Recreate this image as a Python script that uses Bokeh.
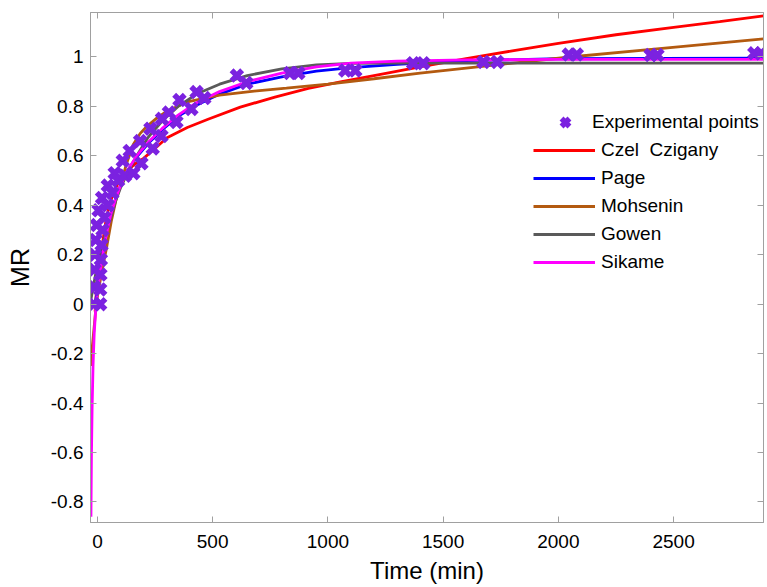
from bokeh.plotting import figure
from bokeh.models import (LinearAxis, Range1d, FixedTicker, CustomJSTickFormatter,
                          Legend, LegendItem)
from bokeh.embed import file_html
from bokeh.resources import INLINE

# ---------------- data ----------------
# experimental points, replicate 1
exp1_t = [-15, -14, -13, -11, -8, -3, 5, 20, 45, 75, 110, 140, 185, 230, 280, 310,
          356, 430, 605, 835, 1075, 1370, 1675, 2045, 2400, 2850]
exp1_mr = [0.0, 0.07, 0.14, 0.20, 0.26, 0.32, 0.38, 0.43, 0.48, 0.53, 0.58, 0.62,
           0.66, 0.71, 0.75, 0.775, 0.826, 0.858, 0.925, 0.935, 0.945, 0.975, 0.98,
           1.01, 1.008, 1.015]
# experimental points, replicate 2
exp2_t = [12, 12, 13, 15, 18, 22, 30, 45, 65, 90, 120, 156, 191, 240, 278, 343,
          408, 464, 646, 872, 1119, 1414, 1735, 2080, 2430, 2880]
exp2_mr = [0.0, 0.06, 0.12, 0.18, 0.24, 0.30, 0.35, 0.40, 0.45, 0.50, 0.52, 0.53,
           0.57, 0.63, 0.68, 0.737, 0.79, 0.834, 0.895, 0.935, 0.945, 0.975, 0.98,
           1.01, 1.008, 1.015]

# Czel Czigany model
czel_t = [-10, -4, 0, 9, 26, 39, 55, 69, 95, 125, 160, 200, 250, 300, 390, 480, 620,
          770, 915, 1060, 1200, 1400, 1600, 1800, 2000, 2250, 2500, 2700, 2890]
czel_mr = [-0.03, 0.06, 0.10, 0.166, 0.27, 0.35, 0.41, 0.45, 0.50, 0.535, 0.565, 0.59,
           0.63, 0.672, 0.715, 0.748, 0.797, 0.838, 0.873, 0.9, 0.925, 0.96, 0.993,
           1.025, 1.055, 1.09, 1.12, 1.143, 1.166]

# Page model
page_t = [-10, 0, 10, 20, 30, 45, 60, 80, 100, 130, 170, 220, 280, 350, 430, 530, 650,
          800, 950, 1100, 1300, 1600, 2000, 2890]
page_mr = [0.0, 0.06, 0.13, 0.19, 0.24, 0.31, 0.37, 0.43, 0.48, 0.54, 0.595, 0.65,
           0.705, 0.76, 0.805, 0.85, 0.89, 0.92, 0.943, 0.957, 0.97, 0.985, 0.993, 0.995]

# Mohsenin model
mohs_t = [-28, -24, -18, -12, -5, 5, 15, 25, 40, 60, 80, 100, 125, 155, 185, 215, 260,
          300, 390, 530, 680, 820, 1000, 1200, 1400, 1700, 2050, 2450, 2890]
mohs_mr = [-0.25, -0.19, -0.13, -0.07, 0.0, 0.06, 0.11, 0.16, 0.23, 0.335, 0.42, 0.48,
           0.565, 0.645, 0.69, 0.72, 0.755, 0.78, 0.818, 0.846, 0.862, 0.874, 0.89,
           0.912, 0.935, 0.965, 1.0, 1.035, 1.073]

# Gowen model
gowen_t = [-28, -20, -10, 0, 10, 25, 40, 60, 80, 100, 130, 170, 220, 280, 350, 430, 530,
           650, 800, 950, 1100, 1300, 2890]
gowen_mr = [0.02, 0.06, 0.11, 0.16, 0.20, 0.25, 0.30, 0.355, 0.42, 0.47, 0.53, 0.60,
            0.675, 0.74, 0.80, 0.85, 0.89, 0.925, 0.952, 0.968, 0.974, 0.975, 0.975]

# Sikame model
sik_t = [-28, -26, -23, -19, -14, -8, 0, 10, 20, 30, 45, 60, 80, 100, 130, 170, 220, 280,
         350, 430, 530, 650, 800, 950, 1100, 1300, 1600, 2000, 2890]
sik_mr = [-0.86, -0.62, -0.42, -0.25, -0.12, -0.03, 0.05, 0.12, 0.18, 0.24, 0.31, 0.37,
          0.43, 0.48, 0.54, 0.60, 0.655, 0.71, 0.765, 0.815, 0.86, 0.90, 0.935, 0.96,
          0.975, 0.983, 0.988, 0.99, 0.99]

x_ticks = [0, 500, 1000, 1500, 2000, 2500]
y_ticks = [-0.8, -0.6, -0.4, -0.2, 0, 0.2, 0.4, 0.6, 0.8, 1.0]

# ---------------- figure ----------------
FONT = "Liberation Sans"
AX_GREY = "#A0A0A0"

p = figure(width=767, height=587, x_range=Range1d(-30, 2890), y_range=Range1d(-0.883, 1.18),
           output_backend="svg", toolbar_location=None,
           min_border_left=90, min_border_right=4, min_border_top=12, min_border_bottom=65)
p.background_fill_color = "white"
p.border_fill_color = "white"
p.outline_line_color = AX_GREY
p.xgrid.visible = False
p.ygrid.visible = False

lw = 2.8
r_czel = p.line(czel_t, czel_mr, line_color="#FF0000", line_width=lw)
r_page = p.line(page_t, page_mr, line_color="#0000FF", line_width=lw)
r_mohs = p.line(mohs_t, mohs_mr, line_color="#B35A10", line_width=lw)
r_gow = p.line(gowen_t, gowen_mr, line_color="#5A5A5A", line_width=lw)
r_sik = p.line(sik_t, sik_mr, line_color="#FF00FF", line_width=lw)
MC = "#7B22E0"
r_exp = p.scatter(exp1_t, exp1_mr, marker="x", size=15, line_color=MC, line_width=5.5)
p.scatter(exp2_t, exp2_mr, marker="x", size=15, line_color=MC, line_width=5.5)

bottom = p.below[0]
left = p.left[0]

bottom.ticker = FixedTicker(ticks=x_ticks)
bottom.axis_label = "Time (min)"
left.ticker = FixedTicker(ticks=y_ticks)
left.formatter = CustomJSTickFormatter(code="return tick.toFixed(1).replace(/\\.0$/, '');")
left.axis_label = "MR"

top = LinearAxis(ticker=FixedTicker(ticks=x_ticks),
                 formatter=CustomJSTickFormatter(code="return '';"))
right = LinearAxis(ticker=FixedTicker(ticks=y_ticks),
                   formatter=CustomJSTickFormatter(code="return '';"))
p.add_layout(top, "above")
p.add_layout(right, "right")

for ax in (bottom, left, top, right):
    ax.axis_line_color = AX_GREY
    ax.major_tick_line_color = AX_GREY
    ax.major_tick_in = 6
    ax.major_tick_out = 0
    ax.minor_tick_line_color = None
    ax.major_label_text_font = FONT
    ax.major_label_text_font_size = "19px"
    ax.major_label_text_color = "black"
    ax.axis_label_text_font = FONT
    ax.axis_label_text_font_size = "25px"
    ax.axis_label_text_font_style = "normal"
    ax.axis_label_text_color = "black"
for ax in (top, right):
    ax.major_label_text_font_size = "0px"
    ax.major_label_standoff = 0

bottom.major_label_standoff = 12
bottom.axis_label_standoff = 6
bottom.axis_label_text_font_size = "24px"
left.major_label_standoff = 7
left.axis_label_standoff = 14

common = dict(spacing=0, padding=0, margin=0, border_line_color=None,
              background_fill_alpha=0, label_text_font=FONT,
              label_text_font_size="19px", label_text_color="black",
              glyph_height=28, label_height=28)

legend_pts = Legend(items=[LegendItem(label="Experimental points", renderers=[r_exp])],
                    location=(448, 386), glyph_width=54, label_standoff=0, **common)
legend_lines = Legend(items=[LegendItem(label="Czel  Czigany", renderers=[r_czel]),
                             LegendItem(label="Page", renderers=[r_page]),
                             LegendItem(label="Mohsenin", renderers=[r_mohs]),
                             LegendItem(label="Gowen", renderers=[r_gow]),
                             LegendItem(label="Sikame", renderers=[r_sik])],
                      location=(443, 246), glyph_width=62, label_standoff=6, **common)
p.add_layout(legend_pts)
p.add_layout(legend_lines)

open("out.html", "w").write(file_html(p, INLINE))
